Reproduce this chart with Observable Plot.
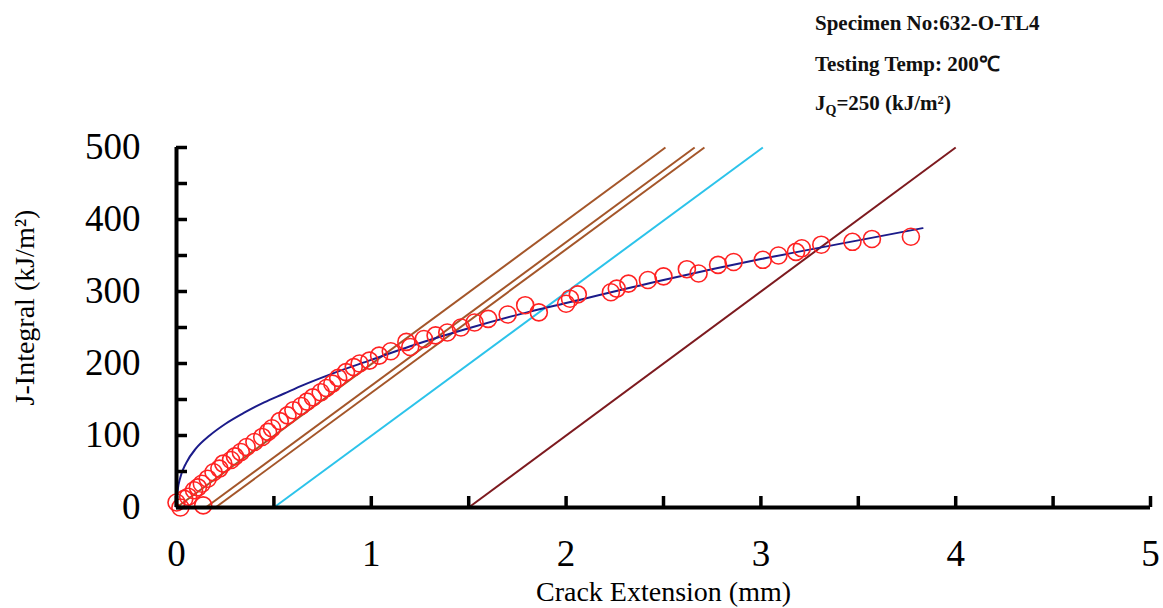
<!DOCTYPE html>
<html>
<head>
<meta charset="utf-8">
<script src="https://cdn.jsdelivr.net/npm/d3@7"></script>
<script src="https://cdn.jsdelivr.net/npm/@observablehq/plot@0.6"></script>
<style>
  body { margin: 0; background: #fff; }
  #wrap { position: relative; width: 1163px; height: 608px; background: #fff; }
  .hdr { position: absolute; left: 815px; font-family: "Liberation Serif", serif; font-weight: bold;
         font-size: 21px; line-height: 21px; white-space: nowrap; color: #111; }
  .hdr sub { font-size: 14px; vertical-align: -5px; line-height: 0; }
  #chart { position: absolute; left: 0; top: 0; }
</style>
</head>
<body>
<div id="wrap">
  <div id="chart"></div>
  <div class="hdr" style="top:13px">Specimen No:632-O-TL4</div>
  <div class="hdr" style="top:54px">Testing Temp: 200℃</div>
  <div class="hdr" style="top:93px">J<sub>Q</sub>=250 (kJ/m²)</div>
</div>
<script>
// ---- measured data: crack extension (mm) vs J-integral (kJ/m²)
const crackExt = [0.00, 0.02, 0.04, 0.06, 0.09, 0.11, 0.13, 0.137, 0.16, 0.19, 0.22, 0.24, 0.28, 0.30, 0.33,
  0.36, 0.40, 0.44, 0.47, 0.49, 0.53, 0.57, 0.60, 0.64, 0.67, 0.70, 0.74, 0.77, 0.80, 0.83, 0.87, 0.91, 0.94,
  0.99, 1.04, 1.10, 1.18, 1.20, 1.27, 1.33, 1.39, 1.46, 1.53, 1.60, 1.70, 1.79, 1.86, 2.00, 2.02, 2.06, 2.23,
  2.26, 2.32, 2.42, 2.50, 2.62, 2.68, 2.78, 2.86, 3.01, 3.09, 3.18, 3.21, 3.31, 3.47, 3.57, 3.77];
const jIntegral = [7, 0, 12, 15, 24, 28, 33, 3, 40, 49, 54, 61, 66, 71, 77,
  84, 91, 98, 105, 110, 120, 128, 135, 141, 147, 153, 160, 166, 172, 180, 188, 195, 200,
  204, 211, 217, 230, 223, 234, 239, 243, 250, 257, 262, 268, 281, 271, 283, 290, 296, 299,
  304, 311, 316, 321, 331, 325, 337, 341, 344, 350, 355, 360, 365, 369, 373, 376];

// ---- fitted R-curve
const fitX = [0, 0.005, 0.02, 0.05, 0.10, 0.17, 0.25, 0.35, 0.45, 0.55, 0.65, 0.80, 1.00, 1.20, 1.50, 1.80, 2.00, 2.50, 3.00, 3.50, 3.83];
const fitJ = [0, 22, 42, 62, 82, 100, 116, 132, 146, 158, 170, 186, 205, 224, 249, 271, 284, 316, 345, 371, 388];

// ---- construction / exclusion / offset lines (start and end points)
const lineNames = ["construction", "exclusion 0.15", "offset 0.2", "exclusion 0.5", "exclusion 1.5"];
const lineStartX = [0, 0.15, 0.2, 0.5, 1.5];
const lineStartJ = [0, 0, 0, 0, 0];
const lineEndX = [2.51, 2.66, 2.71, 3.01, 4.0];
const lineEndJ = [500, 500, 500, 500, 500];

// ---- axis ticks
const xTicks = [0, 0.5, 1, 1.5, 2, 2.5, 3, 3.5, 4, 4.5, 5];
const yTicks = [0, 50, 100, 150, 200, 250, 300, 350, 400, 450, 500];
const xLabel = "Crack Extension (mm)";
const yLabel = "J-Integral (kJ/m²)";

// ---- styles (kept separate from data)
const lineColor = {
  "construction": "#a4562a",
  "exclusion 0.15": "#a4562a",
  "offset 0.2": "#a4562a",
  "exclusion 0.5": "#2cc3ea",
  "exclusion 1.5": "#7d1a1f"
};

const points = crackExt.map((x, i) => ({x, j: jIntegral[i]}));
const fit = fitX.map((x, i) => ({x, j: fitJ[i]}));
const segs = lineNames.map((name, i) => ({name, x1: lineStartX[i], y1: lineStartJ[i], x2: lineEndX[i], y2: lineEndJ[i]}));

const chart = Plot.plot({
  width: 1163,
  height: 608,
  marginLeft: 176,
  marginRight: 13,
  marginTop: 147,
  marginBottom: 101,
  style: {fontFamily: "Liberation Serif, Times New Roman, serif", background: "transparent", color: "#000"},
  x: {domain: [0, 5]},
  y: {domain: [0, 500]},
  marks: [
    Plot.link(segs, {x1: "x1", y1: "y1", x2: "x2", y2: "y2", stroke: d => lineColor[d.name], strokeWidth: 2}),
    Plot.line(fit, {x: "x", y: "j", stroke: "#1b1b8a", strokeWidth: 2, curve: "monotone-x"}),
    Plot.dot(points, {x: "x", y: "j", r: 8.5, stroke: "#ff2222", strokeWidth: 1.6, fill: "none"}),
    Plot.ruleY([0], {stroke: "#000", strokeWidth: 4}),
    Plot.ruleX([0], {stroke: "#000", strokeWidth: 4}),
    Plot.axisX({ticks: xTicks, tickSize: -11, tickPadding: 43, strokeWidth: 3.5,
      tickFormat: d => Number.isInteger(d) ? d : "", fontSize: 37, label: null}),
    Plot.axisY({ticks: yTicks, tickSize: -11, tickPadding: 47, strokeWidth: 3.5,
      tickFormat: d => d % 100 === 0 ? d : "", fontSize: 37, label: null}),
    Plot.text([xLabel], {frameAnchor: "bottom", dy: 85, lineAnchor: "middle", textAnchor: "middle", fontSize: 28, fill: "#000"}),
    Plot.text([yLabel], {frameAnchor: "left", dx: -151, dy: -20, rotate: -90, lineAnchor: "middle", textAnchor: "middle", fontSize: 28, fill: "#000"})
  ]
});
document.getElementById("chart").appendChild(chart);
</script>
</body>
</html>
